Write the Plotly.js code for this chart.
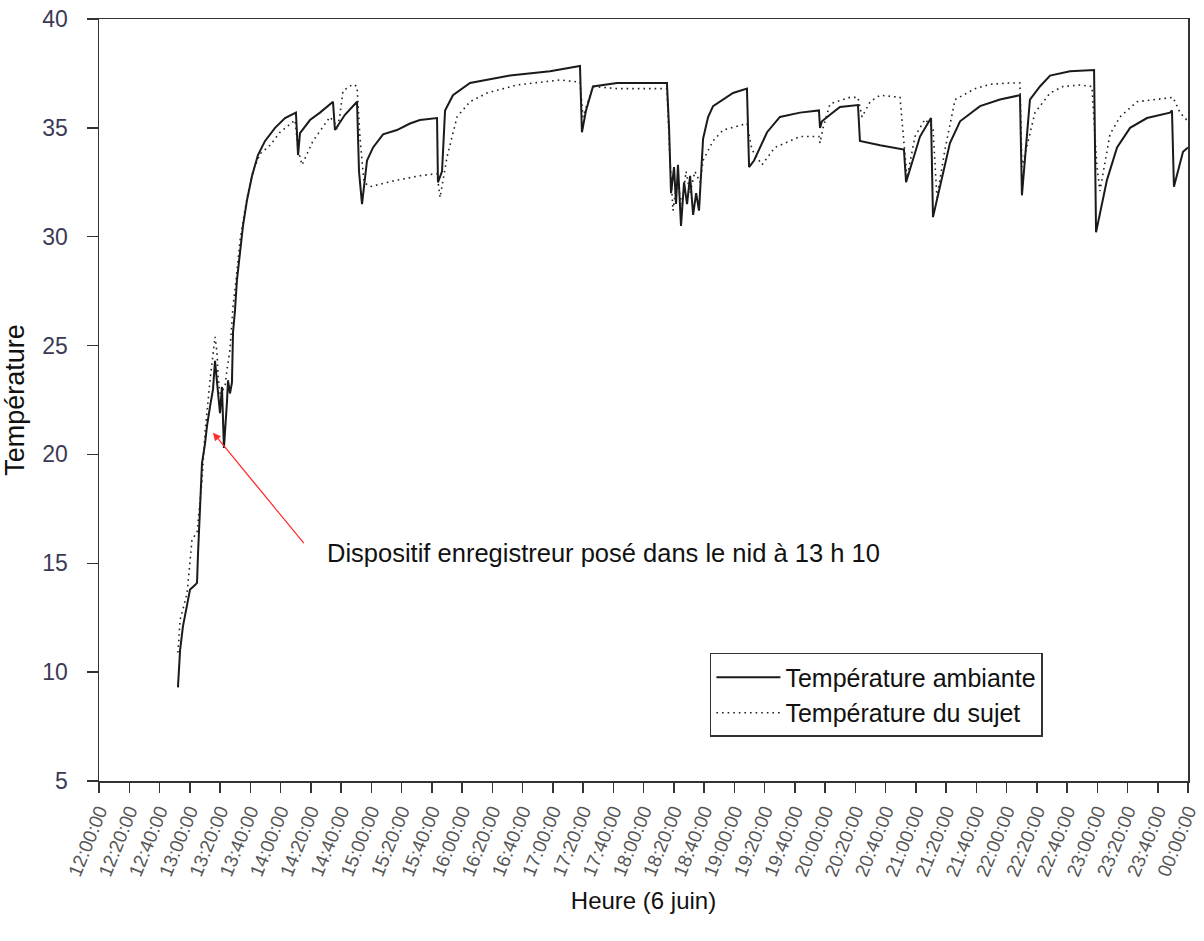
<!DOCTYPE html>
<html>
<head>
<meta charset="utf-8">
<script src="https://cdn.plot.ly/plotly-3.0.1.min.js"></script>
<style>
  html, body { margin: 0; padding: 0; background: #ffffff; }
  #chart { width: 1204px; height: 941px; }
</style>
</head>
<body>
<div id="chart"></div>
<script>
// ---- Data ----
// Time in minutes after 12:00 on 6 June
const ambientMinutes = [
  52.2, 53.6, 55.5, 58.2, 60.2, 63.5, 64.8, 65.5, 66.8, 68.1, 70.1, 71.4, 73.4, 75.4, 76.7, 78.0,
  80.0, 81.3, 82.6, 84.6, 85.3, 86.6, 87.9, 88.6, 89.9, 91.2, 93.2, 95.2, 97.9, 101.2, 105.1, 109.8,
  116.4, 123.0, 130.2, 131.6, 132.9, 139.5, 146.1, 154.7, 156.0, 158.0, 162.6, 170.6, 171.9, 173.9,
  177.2, 181.2, 187.8, 197.0, 205.6, 212.2, 223.5, 224.1, 226.8, 228.8, 234.0, 245.3, 256.5, 271.7,
  298.2, 318.0, 319.3, 322.0, 326.6, 342.5, 375.5, 376.9, 378.2, 380.2, 381.5, 382.8, 384.8, 386.8,
  388.8, 390.8, 392.8, 394.8, 396.7, 398.0, 399.4, 402.7, 406.0, 419.2, 428.4, 429.8, 433.1, 441.7,
  450.2, 463.5, 476.0, 476.7, 478.0, 483.3, 489.9, 501.8, 503.1, 516.4, 532.2, 533.6, 538.2, 542.8,
  550.1, 551.4, 558.0, 562.6, 569.3, 582.5, 595.7, 608.9, 610.2, 612.9, 615.5, 622.1, 628.8, 642.0,
  657.9, 659.2, 666.4, 673.1, 681.7, 692.9, 708.1, 709.4, 710.7, 716.7, 720.0
];
const ambientTemp = [
  9.3, 11.0, 12.1, 13.0, 13.8, 14.0, 14.1, 15.5, 17.3, 19.6, 20.5, 21.3, 22.2, 23.0, 24.3, 23.4,
  21.9, 23.1, 20.3, 22.4, 23.4, 22.8, 23.3, 25.6, 26.6, 28.0, 29.4, 30.5, 31.7, 32.8, 33.75, 34.4,
  35.0, 35.45, 35.7, 33.75, 34.76, 35.36, 35.7, 36.2, 34.9, 35.1, 35.6, 36.2, 33.0, 31.5,
  33.5, 34.1, 34.7, 34.9, 35.2, 35.36, 35.45, 32.5, 33.0, 35.8, 36.5, 37.06, 37.2, 37.4,
  37.6, 37.84, 34.8, 35.8, 36.9, 37.06, 37.06, 35.0, 32.0, 33.2, 31.5, 33.3, 30.5, 32.5,
  31.5, 32.8, 31.0, 32.0, 31.2, 33.0, 34.5, 35.5, 36.0, 36.6, 36.8, 33.2, 33.5, 34.8,
  35.5, 35.7, 35.8, 35.0, 35.3, 35.6, 35.96, 36.05, 34.4, 34.2, 34.0, 32.5, 33.5, 34.6,
  35.45, 30.9, 32.9, 34.3, 35.3, 36.0, 36.3, 36.5, 31.9, 34.0, 36.3, 36.9, 37.4, 37.6,
  37.66, 30.2, 32.6, 34.1, 35.0, 35.45, 35.7, 35.8, 32.3, 33.9, 34.1
];

const subjectMinutes = [
  52.2, 53.6, 58.2, 61.5, 64.8, 68.1, 70.1, 72.1, 73.4, 76.7, 78.0, 78.7, 80.0, 83.3, 84.6, 86.6,
  87.9, 88.6, 90.6, 93.2, 95.9, 98.5, 101.8, 106.4, 113.1, 119.7, 129.6, 131.6, 134.2, 141.5,
  152.7, 156.0, 157.4, 159.3, 161.3, 167.9, 170.6, 172.6, 175.2, 179.2, 197.0, 212.2, 223.5,
  225.5, 230.1, 236.7, 245.3, 256.5, 276.4, 291.6, 304.8, 318.0, 320.0, 326.6, 342.5, 375.5,
  377.5, 379.5, 382.1, 385.5, 388.1, 390.8, 394.0, 397.4, 399.4, 406.0, 412.6, 428.4, 431.7,
  438.3, 446.9, 463.5, 476.0, 476.7, 478.7, 483.3, 496.5, 501.8, 504.5, 509.8, 516.4, 529.6,
  532.9, 534.2, 539.5, 546.1, 551.4, 554.0, 559.3, 566.0, 579.2, 589.1, 602.3, 608.9, 610.2,
  618.8, 628.8, 637.4, 648.6, 656.5, 659.8, 661.8, 668.4, 675.0, 686.3, 699.5, 710.1, 714.7, 720.0
];
const subjectTemp = [
  10.9, 12.4, 13.6, 16.1, 16.4, 18.8, 21.0, 22.5, 23.4, 25.4, 24.7, 23.6, 22.8, 23.1, 23.9, 24.8,
  25.9, 26.8, 28.0, 29.8, 31.0, 32.0, 33.0, 33.8, 34.2, 34.8, 35.36, 34.0, 33.3, 34.4,
  35.5, 35.2, 34.9, 35.6, 36.7, 37.0, 36.9, 34.5, 32.5, 32.3, 32.6, 32.8, 32.9,
  31.8, 33.66, 35.5, 36.2, 36.6, 36.97, 37.1, 37.2, 37.1, 35.5, 36.9, 36.8, 36.8,
  33.5, 31.2, 32.5, 31.5, 33.0, 32.0, 33.0, 32.5, 33.5, 34.4, 34.9, 35.2, 34.0,
  33.3, 34.1, 34.6, 34.6, 34.3, 35.0, 36.1, 36.4, 36.4, 35.5, 36.2, 36.5, 36.4,
  34.0, 32.7, 34.6, 35.4, 35.0, 31.8, 34.0, 36.3, 36.8, 37.0, 37.06, 37.06, 33.2,
  35.7, 36.6, 36.9, 36.97, 36.9, 33.2, 32.1, 34.7, 35.5, 36.2, 36.3, 36.4, 35.7, 35.3
];

const seriesNames = ['Température ambiante', 'Température du sujet'];
const annotationText = 'Dispositif enregistreur posé dans le nid à 13 h 10';
const xTitle = 'Heure (6 juin)';
const yTitle = 'Température';

// ---- helpers ----
function pad(n) { return String(n).padStart(2, '0'); }
function toTime(min) {
  const t = new Date(Date.UTC(2000, 5, 6, 12, 0, 0) + Math.round(min * 60000));
  return t.getUTCFullYear() + '-' + pad(t.getUTCMonth() + 1) + '-' + pad(t.getUTCDate()) + ' ' +
         pad(t.getUTCHours()) + ':' + pad(t.getUTCMinutes()) + ':' + pad(t.getUTCSeconds());
}

const traces = [
  {
    x: ambientMinutes.map(toTime), y: ambientTemp, name: seriesNames[0],
    type: 'scatter', mode: 'lines',
    line: { color: '#1a1a1a', width: 2 }
  },
  {
    x: subjectMinutes.map(toTime), y: subjectTemp, name: seriesNames[1],
    type: 'scatter', mode: 'lines',
    line: { color: '#222222', width: 1.6, dash: '1.6px,4px' }
  }
];

const font = "'Liberation Sans', Arial, sans-serif";

const layout = {
  width: 1204, height: 941,
  margin: { l: 99, r: 16, t: 19, b: 160 },
  paper_bgcolor: '#ffffff', plot_bgcolor: '#ffffff',
  font: { family: font, color: '#111' },
  showlegend: true,
  legend: {
    x: 0.561, y: 0.168, xanchor: 'left', yanchor: 'top',
    bordercolor: '#333', borderwidth: 1.5, bgcolor: '#ffffff',
    itemwidth: 64,
    font: { family: font, size: 25, color: '#111' }
  },
  xaxis: {
    type: 'date',
    range: [toTime(0), toTime(720)],
    tick0: toTime(0), dtick: 20 * 60000,
    tickformat: '%H:%M:%S',
    tickangle: -68,
    ticks: 'outside', ticklen: 10, tickwidth: 1.5, tickcolor: '#333',
    showline: true, linecolor: '#333', linewidth: 1.5, mirror: true,
    showgrid: false, zeroline: false,
    automargin: 'bottom',
    tickfont: { family: font, size: 19, color: '#555555' },
    title: { text: xTitle, font: { family: font, size: 24, color: '#111' }, standoff: 14 }
  },
  yaxis: {
    range: [5, 40], dtick: 5, tick0: 5,
    ticks: 'outside', ticklen: 11, tickwidth: 1.5, tickcolor: '#333',
    showline: true, linecolor: '#333', linewidth: 1.5, mirror: true,
    showgrid: false, zeroline: false,
    ticklabelstandoff: 14,
    tickfont: { family: font, size: 23, color: '#3b3a55' },
    title: { text: yTitle, font: { family: font, size: 27, color: '#111' }, standoff: 12 }
  },
  annotations: [
    {
      x: toTime(75.4), y: 21.0, xref: 'x', yref: 'y',
      ax: 92, ay: 112, axref: 'pixel', ayref: 'pixel',
      text: '', showarrow: true,
      arrowcolor: '#ff2a2a', arrowwidth: 1.2, arrowhead: 2, arrowsize: 1.3
    },
    {
      x: toTime(149.4), y: 15.47, xref: 'x', yref: 'y',
      xanchor: 'left', yanchor: 'middle', showarrow: false,
      text: annotationText,
      font: { family: font, size: 25.5, color: '#111' }
    }
  ]
};

Plotly.newPlot('chart', traces, layout, { displayModeBar: false, staticPlot: true });
</script>
</body>
</html>
